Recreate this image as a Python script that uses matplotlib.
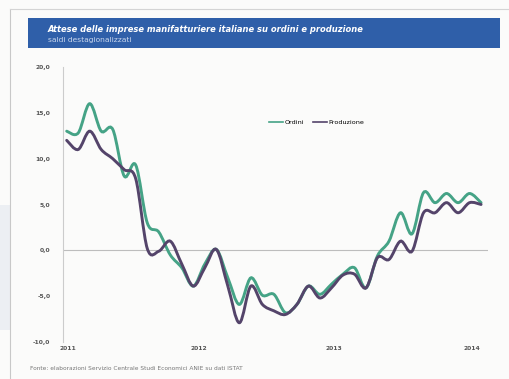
import numpy as np
import matplotlib
matplotlib.use("Agg")
import matplotlib.pyplot as plt
from matplotlib.path import Path
from matplotlib.patches import PathPatch, Rectangle
from matplotlib.lines import Line2D

# monthly balances, Jan 2011 onwards
months = np.arange(37)
ordini = [13.0, 12.8, 16.0, 13.0, 13.2, 8.1, 9.3, 3.0, 2.0, -0.5,
          -1.9, -3.9, -1.5, 0.1, -3.0, -5.9, -3.0, -4.9, -4.8, -6.8,
          -5.9, -3.9, -4.8, -3.7, -2.6, -1.9, -4.1, -0.6, 1.0, 4.1,
          1.8, 6.3, 5.2, 6.2, 5.2, 6.2, 5.2]
produzione = [12.0, 11.0, 13.0, 11.0, 10.0, 8.8, 7.8, 0.2, -0.1, 1.0,
              -1.5, -3.9, -1.9, 0.1, -3.9, -7.9, -3.9, -5.9, -6.6, -7.0,
              -5.9, -3.9, -5.2, -4.1, -2.7, -2.6, -4.1, -0.8, -1.0, 1.0,
              -0.1, 4.1, 4.1, 5.2, 4.1, 5.2, 5.0]
year_labels = ["2011", "2012", "2013", "2014"]
year_pos = [0.14, 11.5, 23.2, 35.2]
yticks = [-10, -5, 0, 5, 10, 15, 20]

green = "#45a386"
purple = "#54446a"


def smooth_path(x, y):
    # Excel-like smoothed line: cubic bezier through every point
    x = np.asarray(x, float)
    y = np.asarray(y, float)
    p = np.column_stack([x, y])
    pp = np.vstack([p[0], p, p[-1]])
    verts = [p[0]]
    codes = [Path.MOVETO]
    for i in range(len(p) - 1):
        a = pp[i + 1] + (pp[i + 2] - pp[i]) / 6.0
        b = pp[i + 2] - (pp[i + 3] - pp[i + 1]) / 6.0
        verts += [a, b, p[i + 1]]
        codes += [Path.CURVE4] * 3
    return Path(verts, codes)


fig = plt.figure(figsize=(5.1, 3.79), dpi=100, facecolor="#fbfbfa")

# page decorations
fig.add_artist(Rectangle((0, 1 - 330 / 379), 10 / 510, 125 / 379,
                         transform=fig.transFigure, color="#eceff3", lw=0))
fig.add_artist(Line2D([10 / 510, 10 / 510], [0, 1 - 9 / 379],
                      transform=fig.transFigure, color="#c8c8c8", lw=0.8))
fig.add_artist(Line2D([10 / 510, 1], [1 - 9 / 379, 1 - 9 / 379],
                      transform=fig.transFigure, color="#d4d4d4", lw=0.8))
fig.add_artist(Rectangle((28 / 510, 1 - 48 / 379), 472 / 510, 30 / 379,
                         transform=fig.transFigure, color="#2f5fa9", lw=0))
fig.text(48 / 510, 1 - 29 / 379,
         "Attese delle imprese manifatturiere italiane su ordini e produzione",
         color="white", fontsize=6.0, fontstyle="italic", fontweight="bold",
         va="center", ha="left")
fig.text(48 / 510, 1 - 40 / 379, "saldi destagionalizzati",
         color="#c9d6ec", fontsize=5.4, va="center", ha="left")
fig.text(30 / 510, 1 - 368 / 379,
         "Fonte: elaborazioni Servizio Centrale Studi Economici ANIE su dati ISTAT",
         color="#777777", fontsize=4.2, va="center", ha="left")

ax = fig.add_axes([63 / 510, 1 - 342 / 379, 425 / 510, 275 / 379])
ax.set_facecolor("none")
ax.set_xlim(-0.32, 36.6)
ax.set_ylim(-10, 20)

ax.add_patch(PathPatch(smooth_path(months, ordini), fill=False,
                       edgecolor=green, lw=2.1, capstyle="round", zorder=3))
ax.add_patch(PathPatch(smooth_path(months, produzione), fill=False,
                       edgecolor=purple, lw=2.1, capstyle="round", zorder=4))
ax.axhline(0, color="#bdbdbd", lw=0.8, zorder=1)

for s in ["top", "right", "bottom"]:
    ax.spines[s].set_visible(False)
ax.spines["left"].set_color("#cccccc")
ax.spines["left"].set_linewidth(0.8)

ax.set_yticks(yticks)
ax.set_yticklabels([f"{v:.1f}".replace(".", ",") for v in yticks])
ax.set_xticks(year_pos)
ax.set_xticklabels(year_labels)
ax.tick_params(axis="y", length=0, pad=9, labelsize=4.3, labelcolor="#555555")
ax.tick_params(axis="x", length=0, pad=3, labelsize=4.3, labelcolor="#555555")
for lab in ax.get_yticklabels() + ax.get_xticklabels():
    lab.set_fontweight("bold")

handles = [Line2D([], [], color=green, lw=1.2),
           Line2D([], [], color=purple, lw=1.2)]
ax.legend(handles, ["Ordini", "Produzione"], loc="center",
          bbox_to_anchor=(0.597, 0.80), ncol=2, frameon=False,
          fontsize=4.6, handlelength=2.2, handletextpad=0.2,
          columnspacing=1.4)

fig.savefig("out.png", dpi=100, facecolor=fig.get_facecolor())
